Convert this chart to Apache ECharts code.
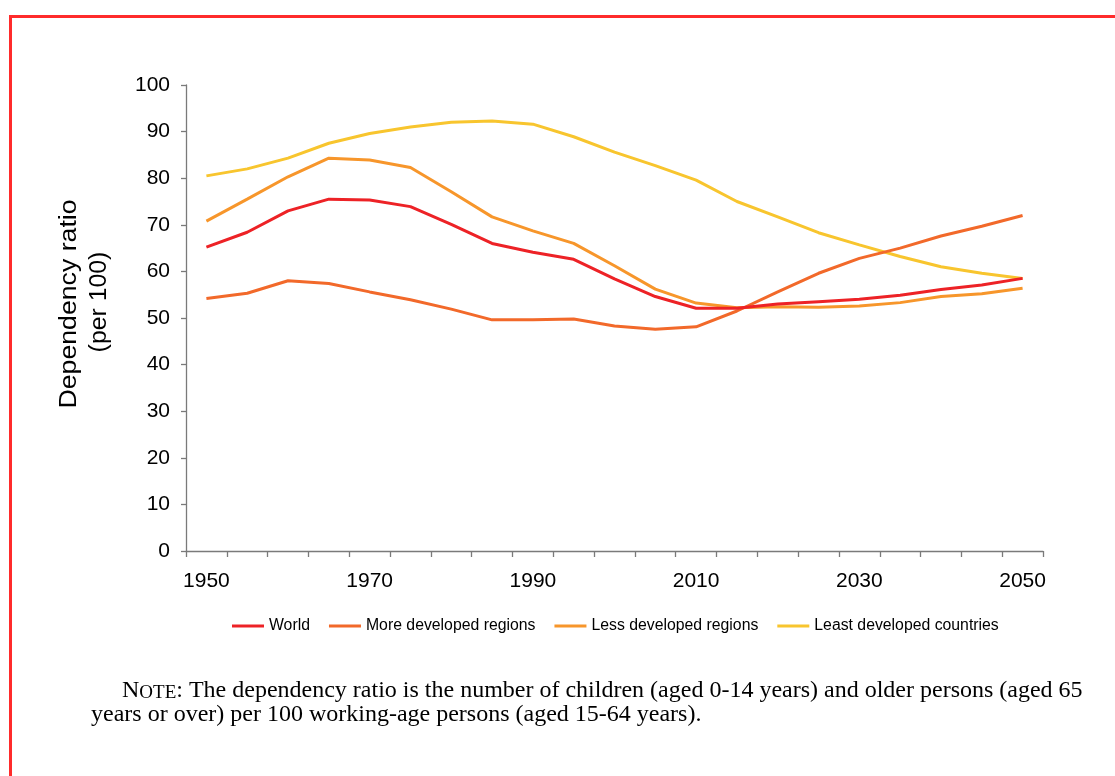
<!DOCTYPE html>
<html>
<head>
<meta charset="utf-8">
<script src="https://cdn.jsdelivr.net/npm/echarts@6/dist/echarts.min.js"></script>
<style>
  html, body { margin: 0; padding: 0; background: #fff; }
  #chart { width: 1115px; height: 776px; }
</style>
</head>
<body>
<div id="chart"></div>
<script>
const years = ['1950','1955','1960','1965','1970','1975','1980','1985','1990','1995','2000','2005','2010','2015','2020','2025','2030','2035','2040','2045','2050'];
const world    = [65.2, 68.4, 73.0, 75.5, 75.3, 73.9, 70.1, 66.0, 64.1, 62.6, 58.4, 54.6, 52.1, 52.1, 53.0, 53.5, 54.0, 54.9, 56.1, 57.1, 58.5];
const moreDev  = [54.2, 55.3, 58.0, 57.4, 55.6, 53.9, 51.9, 49.6, 49.6, 49.8, 48.3, 47.6, 48.1, 51.5, 55.6, 59.6, 62.8, 65.0, 67.6, 69.7, 72.0];
const lessDev  = [70.8, 75.5, 80.3, 84.3, 83.9, 82.3, 77.1, 71.7, 68.7, 66.0, 61.2, 56.2, 53.2, 52.2, 52.4, 52.3, 52.6, 53.3, 54.6, 55.2, 56.4];
const leastDev = [80.5, 82.0, 84.3, 87.5, 89.6, 91.0, 92.0, 92.3, 91.6, 88.9, 85.6, 82.7, 79.6, 75.0, 71.7, 68.3, 65.7, 63.2, 61.0, 59.6, 58.5];
const seriesNames = ['World', 'More developed regions', 'Less developed regions', 'Least developed countries'];
const seriesColors = ['#ED2226', '#F2692A', '#F7962B', '#F8C52E'];
const seriesData = [world, moreDev, lessDev, leastDev];
const yTitleLine1 = 'Dependency ratio';
const yTitleLine2 = '(per 100)';
const noteLine1 = ': The dependency ratio is the number of children (aged 0-14 years) and older persons (aged 65';
const noteLine2 = 'years or over) per 100 working-age persons (aged 15-64 years).';

const chart = echarts.init(document.getElementById('chart'), null, { renderer: 'canvas' });
const sans = 'Liberation Sans, Arial, sans-serif';
const serif = 'Liberation Serif, Times New Roman, serif';

const option = {
  animation: false,
  backgroundColor: '#ffffff',
  grid: { left: 186, top: 85, right: 72, bottom: 225, containLabel: false },
  legend: {
    left: 232, top: 618, padding: 0,
    icon: 'rect', itemWidth: 32, itemHeight: 3, itemGap: 19,
    textStyle: { fontFamily: sans, fontSize: 15.8, color: '#000' },
    data: seriesNames
  },
  xAxis: {
    type: 'category', data: years, boundaryGap: true,
    axisLine: { show: true, lineStyle: { color: '#7a7a7a', width: 1.3 } },
    axisTick: { show: true, interval: 0, length: 6, inside: false, lineStyle: { color: '#7a7a7a', width: 1.3 } },
    axisLabel: { interval: 3, margin: 20, fontFamily: sans, fontSize: 21, color: '#000' },
    splitLine: { show: false }
  },
  yAxis: {
    type: 'value', min: 0, max: 100, interval: 10,
    axisLine: { show: true, lineStyle: { color: '#7a7a7a', width: 1.3 } },
    axisTick: { show: true, length: 5, inside: false, lineStyle: { color: '#7a7a7a', width: 1.3 } },
    axisLabel: { margin: 16, fontFamily: sans, fontSize: 21, color: '#000' },
    splitLine: { show: false }
  },
  series: seriesNames.map((name, i) => ({
    name: name, type: 'line', data: seriesData[i],
    showSymbol: false, symbol: 'none', smooth: false,
    lineStyle: { color: seriesColors[i], width: 3 },
    itemStyle: { color: seriesColors[i] },
    z: 4 - i
  })),
  graphic: [
    {
      type: 'rect', silent: true,
      shape: { x: 10.5, y: 16.5, width: 1300, height: 1000 },
      style: { fill: 'none', stroke: '#FF2B2B', lineWidth: 3 }
    },
    {
      type: 'text', x: 70, y: 304, rotation: Math.PI / 2, scaleX: 1.16,
      style: {
        text: yTitleLine1, fontFamily: sans, fontSize: 23,
        fill: '#000', align: 'center', verticalAlign: 'middle'
      }
    },
    {
      type: 'text', x: 100, y: 302, rotation: Math.PI / 2, scaleX: 1.08,
      style: {
        text: yTitleLine2, fontFamily: sans, fontSize: 23,
        fill: '#000', align: 'center', verticalAlign: 'middle'
      }
    },
    {
      type: 'text', x: 122, y: 703,
      style: {
        text: '{a|N}{b|OTE}{a|' + noteLine1 + '}',
        fontFamily: serif, fontSize: 24, fill: '#000',
        align: 'left', verticalAlign: 'bottom',
        rich: {
          a: { fontFamily: serif, fontSize: 24, lineHeight: 26, verticalAlign: 'bottom', fill: '#000' },
          b: { fontFamily: serif, fontSize: 19, lineHeight: 26, verticalAlign: 'bottom', fill: '#000' }
        }
      }
    },
    {
      type: 'text', x: 91, y: 728,
      style: {
        text: noteLine2, fontFamily: serif, fontSize: 24, lineHeight: 26,
        fill: '#000', align: 'left', verticalAlign: 'bottom'
      }
    }
  ]
};
chart.setOption(option);
</script>
</body>
</html>
